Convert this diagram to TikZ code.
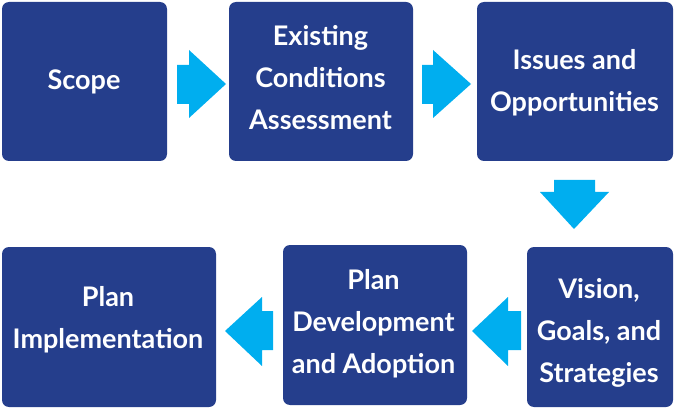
\documentclass[tikz,border=0pt]{standalone}
\usepackage{fontspec}
\setmainfont{Lato}
\definecolor{boxblue}{RGB}{37,62,140}
\definecolor{arrowblue}{RGB}{0,174,239}
\begin{document}
\begin{tikzpicture}[x=1pt,y=-1pt,
  stepbox/.style={fill=boxblue, rounded corners=7pt, inner sep=0pt},
  steptext/.style={anchor=base, inner sep=0pt, align=center,
    text=white, font=\bfseries\fontsize{27}{42}\selectfont},
  blockarrow/.style={fill=arrowblue}]
\useasboundingbox (0,0) rectangle (675,409);
% boxes
\node[stepbox, minimum width=165pt, minimum height=159pt] (scope) at (84.5,81.5) {};
\node[stepbox, minimum width=184pt, minimum height=159pt] (eca) at (321,81.5) {};
\node[stepbox, minimum width=196pt, minimum height=159pt] (issues) at (575,81.5) {};
\node[stepbox, minimum width=146pt, minimum height=160pt] (vision) at (600,327) {};
\node[stepbox, minimum width=184pt, minimum height=160pt] (pd) at (375,325) {};
\node[stepbox, minimum width=214pt, minimum height=160pt] (pi) at (109,327) {};
% texts (anchored at the baseline of the last line)
\node[steptext] (scopetext) at (84,90) {Scope};
\node[steptext] (ecatext) at (320.5,130) {Existing\\Conditions\\Assessment};
\node[steptext] (issuestext) at (574.5,112) {Issues and\\Opportunities};
\node[steptext] (visiontext) at (599,382.5) {Vision,\\Goals, and\\Strategies};
\node[steptext] (pdtext) at (373.5,373.5) {Plan\\Development\\and Adoption};
\node[steptext] (pitext) at (108,348.5) {Plan\\Implementation};
% block arrows
\fill[blockarrow] (177,65) -- (189,65) -- (189,50) -- (226,84) -- (189,118) -- (189,104) -- (177,104) -- cycle;
\fill[blockarrow] (422,65) -- (433,65) -- (433,50) -- (471,84) -- (433,118) -- (433,104) -- (422,104) -- cycle;
\fill[blockarrow] (554,180) -- (595,180) -- (595,192) -- (609,192) -- (574,229) -- (540,192) -- (554,192) -- cycle;
\fill[blockarrow] (521,311) -- (508,311) -- (508,297) -- (472,331) -- (508,366) -- (508,350) -- (521,350) -- cycle;
\fill[blockarrow] (273,311) -- (262,311) -- (262,297) -- (225,331) -- (262,366) -- (262,350) -- (273,350) -- cycle;
\end{tikzpicture}
\end{document}
